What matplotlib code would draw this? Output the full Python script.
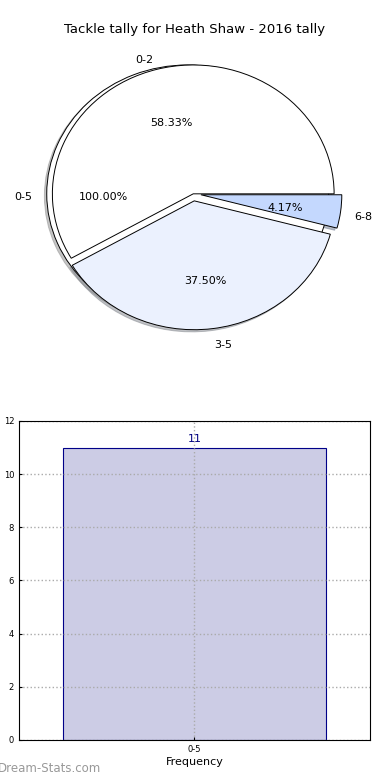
import matplotlib
matplotlib.use('Agg')
import matplotlib.pyplot as plt
from matplotlib.transforms import ScaledTranslation

player = 'Heath Shaw'
year = 2016

# pie data
bins = ['0-2', '3-5', '6-8']
bin_counts = [14, 9, 1]
bin_colors = ['#ffffff', '#ebf1fe', '#c4d8fe']
bin_explode = [0, 0.055, 0.055]

outer_label = ['0-5']
outer_count = [24]

# bar data
bar_labels = ['0-5']
bar_values = [11]

fig = plt.figure(figsize=(3.9, 7.8), dpi=100)

shadow_opts = {'ox': -0.012, 'oy': -0.012, 'shade': 0.45}
wedge_opts = {'edgecolor': 'black', 'linewidth': 0.7}

ax1 = fig.add_axes([0.044, 0.545, 0.903, 0.413])
pie_texts = []
w, t, a = ax1.pie(outer_count, labels=outer_label, colors=['#ffffff'], explode=[0.04],
                  autopct='%.2f%%', shadow=shadow_opts, startangle=0, labeldistance=1.1,
                  wedgeprops=wedge_opts, textprops={'fontsize': 8})
pie_texts += t + a
w, t, a = ax1.pie(bin_counts, labels=bins, colors=bin_colors, explode=bin_explode,
                  autopct='%.2f%%', shadow=shadow_opts, startangle=0, labeldistance=1.1,
                  wedgeprops=wedge_opts, textprops={'fontsize': 8})
pie_texts += t + a
# nudge texts down a little
for txt in pie_texts:
    txt.set_transform(txt.get_transform() + ScaledTranslation(0, -0.035, fig.dpi_scale_trans))
ax1.set_aspect('auto')
ax1.set_xlim(-1.25, 1.25)
ax1.set_ylim(-1.25, 1.25)
fig.text(0.5, 1 - 30 / 780, 'Tackle tally for ' + player + ' - ' + str(year) + ' tally',
         fontsize=9.5, ha='center', va='center')

ax2 = fig.add_axes([0.0487, 0.0513, 0.9, 0.409])
bars = ax2.bar(range(len(bar_values)), bar_values, width=0.75,
               color='#ccccE5', edgecolor='#000088', linewidth=0.8)
for b, v in zip(bars, bar_values):
    ax2.text(b.get_x() + b.get_width() / 2, v + 0.15, str(v),
             ha='center', va='bottom', color='#000080', fontsize=8)
ax2.set_xlim(-0.5, len(bar_values) - 0.5)
ax2.set_ylim(0, 12)
ax2.set_yticks(range(0, 13, 2))
ax2.set_xticks(range(len(bar_labels)))
ax2.set_xticklabels(bar_labels)
ax2.tick_params(labelsize=6, length=2, direction='in')
ax2.grid(True, linestyle=':', color='#aaaaaa', linewidth=1)
ax2.set_axisbelow(False)
for sp in ax2.spines.values():
    sp.set_zorder(3)
ax2.set_xlabel('Frequency', fontsize=8, labelpad=2)
ax2.set_ylabel('Stat Value', fontsize=7, labelpad=6)

fig.text(-0.005, 0.007, 'Dream-Stats.com', color='#999999', fontsize=8.5,
         ha='left', va='bottom')

fig.savefig('out.png', dpi=100)
